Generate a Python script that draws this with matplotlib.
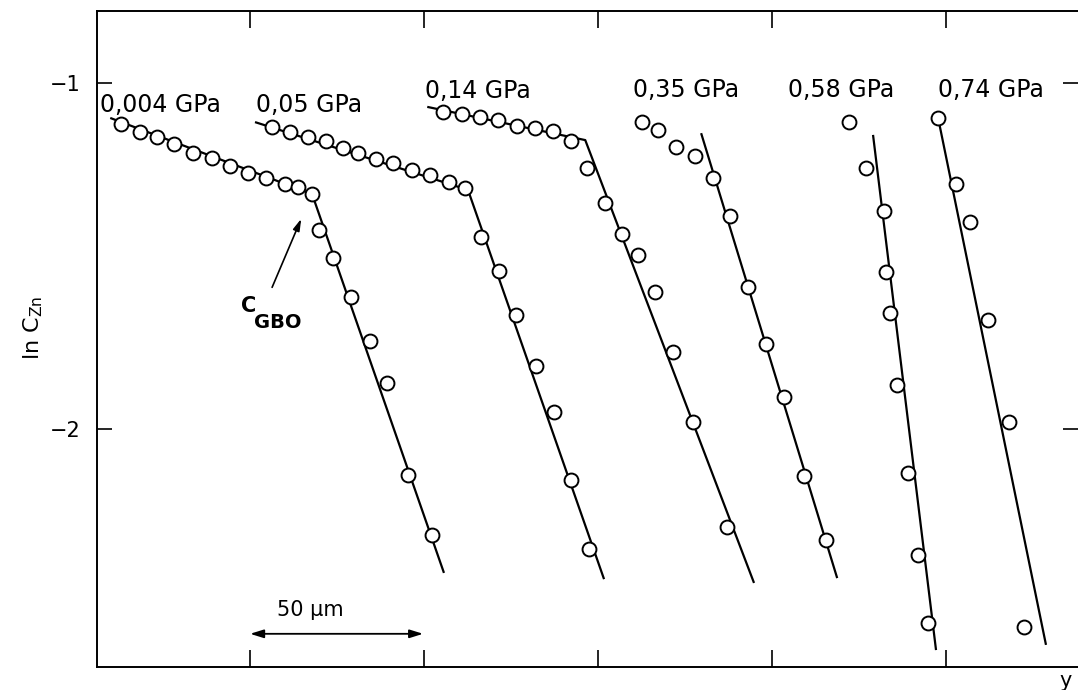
import matplotlib
matplotlib.use("Agg")
import matplotlib.pyplot as plt

# data: x in micrometres, y = ln C_Zn
labels = ["0,004 GPa", "0,05 GPa", "0,14 GPa", "0,35 GPa", "0,58 GPa", "0,74 GPa"]
label_x = [6.9, 51.8, 100.3, 160.1, 204.6, 247.7]
label_y = [-1.084, -1.084, -1.043, -1.040, -1.040, -1.040]

# measured points
x_004 = [12.9, 18.4, 23.3, 28.2, 33.6, 39.1, 44.3, 49.4, 54.6, 60.1, 63.8, 67.8,
         69.8, 73.9, 79.0, 84.5, 89.4, 95.4, 102.3]
y_004 = [-1.118, -1.142, -1.156, -1.176, -1.202, -1.217, -1.240, -1.260, -1.275,
         -1.292, -1.301, -1.321,
         -1.425, -1.506, -1.618, -1.746, -1.867, -2.133, -2.306]
x_05 = [56.3, 61.5, 66.7, 71.8, 76.7, 81.0, 86.2, 91.1, 96.6, 101.7, 107.2, 111.8,
        116.4, 121.6, 126.4, 132.2, 137.4, 142.2, 147.4]
y_05 = [-1.127, -1.142, -1.156, -1.168, -1.188, -1.202, -1.220, -1.231, -1.251,
        -1.266, -1.286, -1.303,
        -1.445, -1.543, -1.671, -1.818, -1.951, -2.147, -2.347]
x_14 = [105.5, 110.9, 116.1, 121.3, 126.7, 131.9, 137.1, 142.2,
        146.8, 152.0, 156.9, 161.5, 166.4, 171.6, 177.3, 187.1]
y_14 = [-1.084, -1.090, -1.098, -1.107, -1.124, -1.130, -1.139, -1.168,
        -1.246, -1.347, -1.436, -1.497, -1.604, -1.777, -1.980, -2.283]
x_35 = [162.6, 167.2, 172.4, 177.9, 183.0, 187.9, 193.1, 198.3, 203.4, 209.2, 215.5]
y_35 = [-1.113, -1.136, -1.185, -1.211, -1.275, -1.384, -1.590, -1.754, -1.908,
        -2.136, -2.321]
x_58 = [222.1, 227.0, 232.2, 232.8, 233.9, 235.9, 239.1, 242.0, 244.8]
y_58 = [-1.113, -1.246, -1.370, -1.546, -1.665, -1.873, -2.127, -2.364, -2.561]
x_74 = [247.7, 252.9, 256.9, 262.1, 268.1, 272.4]
y_74 = [-1.101, -1.292, -1.402, -1.685, -1.980, -2.572]

# fitted lines (start, kink, end)
fit_x = [[9.8, 67.8, 105.7], [51.4, 112.6, 151.7], [100.9, 146.3, 194.8],
         [179.6, 218.7], [229.0, 247.1], [247.7, 278.7]]
fit_y = [[-1.101, -1.321, -2.416], [-1.113, -1.309, -2.434], [-1.069, -1.165, -2.445],
         [-1.145, -2.431], [-1.150, -2.639], [-1.101, -2.624]]

series_x = [x_004, x_05, x_14, x_35, x_58, x_74]
series_y = [y_004, y_05, y_14, y_35, y_58, y_74]

x_ticks = [50, 100, 150, 200, 250]
y_ticks = [-2, -1]

fig = plt.figure(figsize=(10.78, 6.9), dpi=100)
ax = fig.add_axes([0.0900, 0.0333, 0.9100, 0.9507])

for fx, fy in zip(fit_x, fit_y):
    ax.plot(fx, fy, color="black", lw=1.6, solid_capstyle="butt", zorder=2)
for sx, sy in zip(series_x, series_y):
    ax.plot(sx, sy, ls="none", marker="o", ms=10, mfc="white", mec="black",
            mew=1.4, zorder=3)
for lab, lx, ly in zip(labels, label_x, label_y):
    ax.text(lx, ly, lab, fontsize=17, ha="left", va="baseline")

# C_GBO annotation
ax.annotate("", xy=(65.0, -1.385), xytext=(56.0, -1.598),
            arrowprops=dict(arrowstyle="-|>,head_length=0.7,head_width=0.2",
                            color="black", lw=1.2))
ax.text(49.7, -1.645, "C", fontsize=15, fontweight="bold", ha="center", va="center")
ax.text(57.8, -1.693, "GBO", fontsize=14, fontweight="bold", ha="center", va="center")

# 50 um scale bar
ax.annotate("", xy=(50, -2.592), xytext=(99.7, -2.592),
            arrowprops=dict(arrowstyle="<|-|>,head_length=0.8,head_width=0.25",
                            color="black", lw=1.3, shrinkA=0, shrinkB=0))
ax.text(67.2, -2.523, "50 μm", fontsize=15, ha="center", va="center")

ax.set_xlim(6.0, 287.9)
ax.set_ylim(-2.688, -0.792)
ax.set_xticks(x_ticks)
ax.set_yticks(y_ticks)
ax.set_xticklabels([])
ax.tick_params(axis="x", direction="in", length=12, width=1.2, top=True, bottom=True)
ax.tick_params(axis="y", direction="in", length=11, width=1.2, left=True, right=True,
               labelsize=15, pad=12)
ax.spines["right"].set_visible(False)
for s in ("left", "top", "bottom"):
    ax.spines[s].set_linewidth(1.4)

fig.text(33 / 1078, 1 - 328 / 690, r"ln C$_{\mathrm{Zn}}$", fontsize=16,
         rotation=90, ha="center", va="center")
fig.text(1066 / 1078, 1 - 681 / 690, "y", fontsize=15, ha="center", va="center")

fig.savefig("out.png", dpi=100)
